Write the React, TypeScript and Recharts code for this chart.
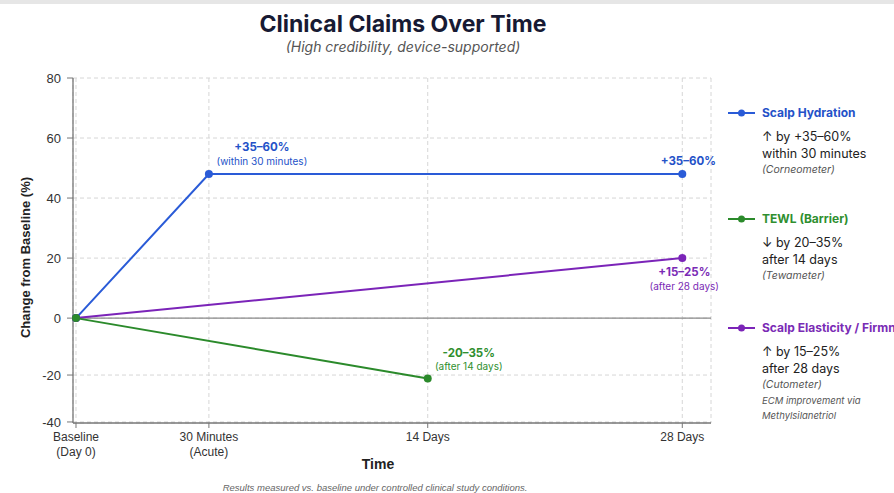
import React from 'react';
import { LineChart, Line, XAxis, YAxis, CartesianGrid, ReferenceLine } from 'recharts';

// ---------- data ----------
const timeLabels = ['Baseline', '30 Minutes', '14 Days', '28 Days'];
const timeSubLabels = ['(Day 0)', '(Acute)', '', ''];
const hydrationValues: (number | null)[] = [0, 48, null, 48];
const tewlValues: (number | null)[] = [0, null, -21.5, null];
const elasticityValues: (number | null)[] = [0, null, null, 20];
const yTicks = [-40, -20, 0, 20, 40, 60, 80];

const hydrationNotes: (string[] | null)[] = [null, ['+35–60%', '(within 30 minutes)'], null, ['+35–60%']];
const tewlNotes: (string[] | null)[] = [null, null, ['-20–35%', '(after 14 days)'], null];
const elasticityNotes: (string[] | null)[] = [null, null, null, ['+15–25%', '(after 28 days)']];

const seriesNames = ['Scalp Hydration', 'TEWL (Barrier)', 'Scalp Elasticity / Firmness'];
const legendLines = [
  ['↑ by +35–60%', 'within 30 minutes'],
  ['↓ by 20–35%', 'after 14 days'],
  ['↑ by 15–25%', 'after 28 days'],
];
const legendDevices = ['(Corneometer)', '(Tewameter)', '(Cutometer)'];
const legendExtra = [[], [], ['ECM improvement via', 'Methylsilanetriol']];

// ---------- styles / layout ----------
const COLORS = ['#2a5bd7', '#2b8a2b', '#7b24b8'];
const TEXT_COLORS = ['#2452c8', '#2f8f2f', '#7a2bb5'];
const xFracs = [0.0047, 0.213, 0.556, 0.955];
const yStops = [-40, -20, 0, 80];
const yFracs = [0.003, 0.139, 0.304, 1];
const legendTops = [113, 219, 328];
const SANS = '"Liberation Sans", Arial, sans-serif';
const INTER = 'Inter, "Noto Sans", sans-serif';

const hydrationOffs = [null, { dx: 53, dy1: -27, dy2: -13 }, null, { dx: 6, dy1: -13, dy2: 0 }];
const tewlOffs = [null, null, { dx: 41, dy1: -26, dy2: -12.5 }, null];
const elasticityOffs = [null, null, null, { dx: 2, dy1: 14, dy2: 28 }];

function makeCategoryScale(fracs: number[]): any {
  let dom: any[] = [];
  let rng: number[] = [0, 1];
  const s: any = (v: any) => {
    let i = dom.indexOf(v);
    if (i < 0 && typeof v === 'number') i = v;
    if (i < 0 || i >= fracs.length) return undefined;
    return rng[0] + fracs[i] * (rng[1] - rng[0]);
  };
  s.domain = (d?: any[]) => {
    if (d === undefined) return dom.slice();
    dom = [...d];
    return s;
  };
  s.range = (r?: number[]) => {
    if (r === undefined) return rng.slice();
    rng = [...r];
    return s;
  };
  s.bandwidth = () => 0;
  s.copy = () => makeCategoryScale(fracs).domain(dom).range(rng);
  return s;
}

function makePiecewiseScale(stops: number[], fracs: number[]): any {
  let dom: number[] = [stops[0], stops[stops.length - 1]];
  let rng: number[] = [0, 1];
  const s: any = (v: any) => {
    if (typeof v !== 'number' || isNaN(v)) return undefined;
    let i = 0;
    while (i < stops.length - 2 && v > stops[i + 1]) i++;
    const t = fracs[i] + ((v - stops[i]) / (stops[i + 1] - stops[i])) * (fracs[i + 1] - fracs[i]);
    return rng[0] + t * (rng[1] - rng[0]);
  };
  s.domain = (d?: number[]) => {
    if (d === undefined) return dom.slice();
    dom = [...d];
    return s;
  };
  s.range = (r?: number[]) => {
    if (r === undefined) return rng.slice();
    rng = [...r];
    return s;
  };
  s.ticks = () => yTicks.slice();
  s.copy = () => makePiecewiseScale(stops, fracs).domain(dom).range(rng);
  return s;
}

const xScale = makeCategoryScale(xFracs);
const yScale = makePiecewiseScale(yStops, yFracs);

const data = timeLabels.map((t, i) => ({
  time: t,
  hydration: hydrationValues[i],
  tewl: tewlValues[i],
  elasticity: elasticityValues[i],
}));

const XTick = (props: any) => {
  const { x, y, payload } = props;
  const i = timeLabels.indexOf(payload.value);
  const sub = i >= 0 ? timeSubLabels[i] : '';
  return (
    <g transform={`translate(${x},${y})`}>
      <text textAnchor="middle" fontSize={12} fill="#333" fontFamily={SANS}>
        <tspan x={0} dy={11}>{payload.value}</tspan>
        {sub ? <tspan x={0} dy={15}>{sub}</tspan> : null}
      </text>
    </g>
  );
};

const makeNoteLabel = (notes: (string[] | null)[], offs: any[], color: string) => (props: any) => {
  const { x, y, index } = props;
  const note = notes[index];
  const o = offs[index];
  if (!note || !o || x == null || y == null) return null;
  return (
    <g key={`note-${index}`}>
      <text x={x + o.dx} y={y + o.dy1} textAnchor="middle" dominantBaseline="central" fontFamily={INTER}
        fontWeight={700} fontSize={11.5} fill={color}>{note[0]}</text>
      {note[1] ? (
        <text x={x + o.dx} y={y + o.dy2} textAnchor="middle" dominantBaseline="central" fontFamily={INTER}
          fontSize={10} fill={color}>{note[1]}</text>
      ) : null}
    </g>
  );
};

const YLabel = (props: any) => {
  const vb = props.viewBox || {};
  const cx = (vb.x ?? 13) + 12;
  const cy = (vb.y ?? 78) + (vb.height ?? 345) / 2 + 7;
  return (
    <text x={cx} y={cy} transform={`rotate(-90, ${cx}, ${cy})`} textAnchor="middle" dominantBaseline="central"
      fontFamily={SANS} fontWeight={700} fontSize={13} fill="#222">Change from Baseline (%)</text>
  );
};

const LegendBlock = () => (
  <>
    {seriesNames.map((name, i) => (
      <div key={name} style={{ position: 'absolute', left: 728, top: legendTops[i] - 8, width: 300 }}>
        <div style={{ display: 'flex', alignItems: 'center', height: 16 }}>
          <svg width={27} height={10} style={{ display: 'block' }}>
            <line x1={0} y1={5} x2={27} y2={5} stroke={COLORS[i]} strokeWidth={2} />
            <circle cx={13.5} cy={5} r={3.5} fill={COLORS[i]} />
          </svg>
          <span style={{ marginLeft: 7, fontFamily: INTER, fontWeight: 700, fontSize: 12, color: TEXT_COLORS[i], whiteSpace: 'nowrap', lineHeight: '16px' }}>{name}</span>
        </div>
        <div style={{ marginLeft: 34, marginTop: 7 }}>
          {legendLines[i].map((l) => (
            <div key={l} style={{ fontFamily: INTER, fontSize: 12.5, color: '#222', lineHeight: '17px', whiteSpace: 'nowrap' }}>{l}</div>
          ))}
          <div style={{ fontFamily: INTER, fontStyle: 'italic', fontSize: 10.5, color: '#555', lineHeight: '16px', whiteSpace: 'nowrap' }}>{legendDevices[i]}</div>
          {legendExtra[i].map((l) => (
            <div key={l} style={{ fontFamily: INTER, fontStyle: 'italic', fontSize: 9.5, color: '#555', lineHeight: '15px', whiteSpace: 'nowrap' }}>{l}</div>
          ))}
        </div>
      </div>
    ))}
  </>
);

export default function App() {
  return (
    <div style={{ position: 'fixed', left: 0, top: 0, width: 894, height: 493, background: '#ffffff', overflow: 'hidden' }}>
      <div style={{ position: 'absolute', left: 0, top: 0, width: 894, height: 4, background: '#e6e6e6' }} />
      <div style={{ position: 'absolute', left: 0, top: 9, width: 806, textAlign: 'center', fontFamily: INTER, fontWeight: 700, fontSize: 23, color: '#171a33', lineHeight: '30px' }}>
        Clinical Claims Over Time
      </div>
      <div style={{ position: 'absolute', left: 0, top: 38, width: 806, textAlign: 'center', fontFamily: INTER, fontStyle: 'italic', fontSize: 14, color: '#555', lineHeight: '18px' }}>
        (High credibility, device-supported)
      </div>
      <div style={{ position: 'absolute', left: 0, top: 0 }}>
        <LineChart width={894} height={493} data={data} margin={{ top: 78, right: 183, bottom: 30, left: 13 }}>
          <CartesianGrid stroke="#d6d6d6" strokeDasharray="4 3" />
          <XAxis dataKey="time" type="category" scale={xScale} tick={<XTick />} tickSize={5} tickMargin={2}
            axisLine={{ stroke: '#777', strokeWidth: 1.3 }} tickLine={{ stroke: '#777' }} height={40} interval={0} />
          <YAxis type="number" domain={[-40, 80]} scale={yScale} ticks={yTicks} width={60} tickSize={6} tickMargin={6}
            tick={{ fontSize: 13, fill: '#333', fontFamily: SANS }} axisLine={{ stroke: '#777', strokeWidth: 1.3 }}
            tickLine={{ stroke: '#777' }} label={<YLabel />} allowDataOverflow />
          <ReferenceLine y={0} stroke="#8a8a8a" strokeWidth={1.3} />
          <Line dataKey="hydration" stroke={COLORS[0]} strokeWidth={2} connectNulls isAnimationActive={false}
            dot={{ r: 4, fill: COLORS[0], stroke: COLORS[0], strokeWidth: 0 }}
            label={makeNoteLabel(hydrationNotes, hydrationOffs, TEXT_COLORS[0])} />
          <Line dataKey="elasticity" stroke={COLORS[2]} strokeWidth={2} connectNulls isAnimationActive={false}
            dot={{ r: 4, fill: COLORS[2], stroke: COLORS[2], strokeWidth: 0 }}
            label={makeNoteLabel(elasticityNotes, elasticityOffs, TEXT_COLORS[2])} />
          <Line dataKey="tewl" stroke={COLORS[1]} strokeWidth={2} connectNulls isAnimationActive={false}
            dot={{ r: 4, fill: COLORS[1], stroke: COLORS[1], strokeWidth: 0 }}
            label={makeNoteLabel(tewlNotes, tewlOffs, TEXT_COLORS[1])} />
        </LineChart>
      </div>
      <div style={{ position: 'absolute', left: 328, top: 455, width: 100, textAlign: 'center', fontFamily: SANS, fontWeight: 700, fontSize: 14, color: '#222', lineHeight: '18px' }}>
        Time
      </div>
      <div style={{ position: 'absolute', left: 75, top: 482, width: 600, textAlign: 'center', fontFamily: SANS, fontStyle: 'italic', fontSize: 9.5, color: '#666', lineHeight: '12px' }}>
        Results measured vs. baseline under controlled clinical study conditions.
      </div>
      <LegendBlock />
    </div>
  );
}
